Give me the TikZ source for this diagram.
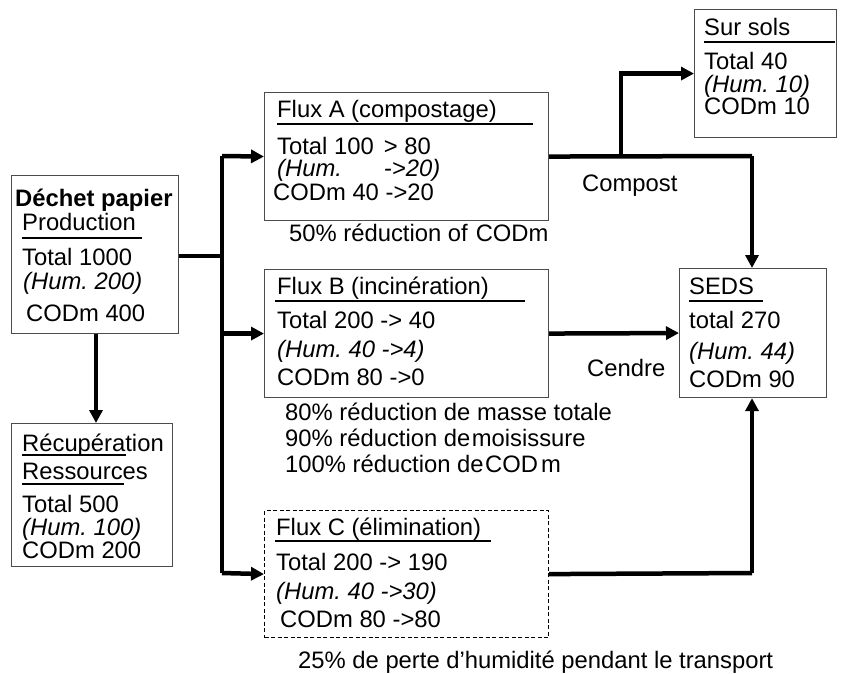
\documentclass[tikz,border=0pt]{standalone}
\usepackage{fontspec}
\setmainfont{Liberation Sans}
\usetikzlibrary{arrows.meta}
\begin{document}
\frenchspacing
\begin{tikzpicture}[x=1pt,y=-1pt,
  box/.style={draw=black!70, line width=1.1pt, anchor=north west, inner sep=0pt},
  dbox/.style={box, draw=black, line width=1.2pt, dash pattern=on 4pt off 2.5pt},
  tx/.style={anchor=west, inner sep=0pt, text height=17pt, text depth=0pt, font=\fontsize{23.8}{24}\selectfont},
  itx/.style={tx, font=\fontsize{23.8}{24}\selectfont\itshape},
  btx/.style={tx, font=\fontsize{23.8}{24}\selectfont\bfseries},
  uline/.style={line width=2pt},
  conn/.style={line width=4.5pt},
  arr/.style={conn, -{Triangle[length=13pt,width=13pt]}}]
\useasboundingbox (0,0) rectangle (842,673);

% boxes
\node[box, minimum width=167pt, minimum height=158pt] (prod) at (11,175) {};
\node[box, minimum width=161pt, minimum height=143pt] (recup) at (11,423) {};
\node[box, minimum width=284pt, minimum height=128pt] (fa) at (264,92) {};
\node[box, minimum width=284pt, minimum height=128pt] (fb) at (264,269) {};
\node[dbox, minimum width=284pt, minimum height=127pt] (fc) at (264,510) {};
\node[box, minimum width=142pt, minimum height=128pt] (sol) at (694,9) {};
\node[box, minimum width=147pt, minimum height=129pt] (seds) at (679,268) {};

% production
\node[btx] (p0) at (15,198) {Déchet papier};
\node[tx] (p1) at (22,222) {Production};
\draw[uline] (22,238) -- (142,238);
\node[tx] (p2) at (22,257) {Total 1000};
\node[itx] (p3) at (23,281) {(Hum. 200)};
\node[tx] (p4) at (26,313) {CODm 400};

% recuperation
\node[tx] (r1) at (22,443) {Récupération};
\draw[uline] (22,455) -- (126,455);
\node[tx] (r2) at (22,471) {Ressources};
\draw[uline] (22,484) -- (124,484);
\node[tx] (r3) at (22,504) {Total 500};
\node[itx] (r4) at (22,527) {(Hum. 100)};
\node[tx] (r5) at (22,550) {CODm 200};

% flux A
\node[tx] (a1) at (277,109) {Flux A (compostage)};
\draw[uline] (277,124) -- (533,124);
\node[tx] (a2) at (277,146) {Total 100\hspace{10pt}> 80};
\node[itx] (a3) at (277,168) {(Hum.\hspace{42pt}->20)};
\node[tx] (a4) at (273,192) {CODm 40 ->20};
\node[tx] (a5) at (289,233) {50\% réduction of\hspace{8pt}CODm};

% flux B
\node[tx] (b1) at (277,286) {Flux B (incinération)};
\draw[uline] (275,301) -- (525,301);
\node[tx] (b2) at (277,320) {Total 200 -> 40};
\node[itx] (b3) at (277,349) {(Hum. 40 ->4)};
\node[tx] (b4) at (277,377) {CODm 80 ->0};
\node[tx] (b5) at (285,412) {80\% réduction de masse totale};
\node[tx] (b6) at (285,438) {90\% réduction de\hspace{1.5pt}moisissure};
\node[tx] (b7) at (285,464) {100\% réduction de\hspace{1.5pt}COD\hspace{3pt}m};

% flux C
\node[tx] (c1) at (276,527) {Flux C (élimination)};
\draw[uline] (275,541) -- (491,541);
\node[tx] (c2) at (276,562) {Total 200 -> 190};
\node[itx] (c3) at (276,591) {(Hum. 40 ->30)};
\node[tx] (c4) at (280,619) {CODm 80 ->80};
\node[tx] (c5) at (298,660) {25\% de perte d’humidité pendant le transport};

% sur sols
\node[tx] (s1) at (704,27) {Sur sols};
\draw[uline] (704,42) -- (835,42);
\node[tx] (s2) at (704,61) {Total 40};
\node[itx] (s3) at (704,84) {(Hum. 10)};
\node[tx] (s4) at (704,106) {CODm 10};

% SEDS
\node[tx] (e1) at (689,286) {SEDS};
\draw[uline] (689,301) -- (763,301);
\node[tx] (e2) at (689,320) {total 270};
\node[itx] (e3) at (689,351) {(Hum. 44)};
\node[tx] (e4) at (689,379) {CODm 90};

% labels
\node[tx] (lc) at (582,183) {Compost};
\node[tx] (lcd) at (587,368) {Cendre};

% connector coordinates
\coordinate (trTop) at (222,156);
\coordinate (trMid) at (222,256);
\coordinate (trBot) at (222,573);
\coordinate (down) at (96,0);
\coordinate (aOut) at (752,156);
\coordinate (br) at (621,156);
\coordinate (cOut) at (752,573);

% connectors
\draw[arr] (prod.south -| down) -- (recup.north -| down);
\draw[conn] (prod.east |- trMid) -- (trMid);
\draw[conn] (trTop) -- (trBot);
\draw[arr] (trTop) -- (fa.west);
\draw[arr] (trTop |- fb.west) -- (fb.west);
\draw[arr] (trBot) -- (fc.west);
\draw[conn] (fa.east) -- (aOut);
\draw[arr] (aOut) -- (seds.north -| aOut);
\draw[arr] (br) |- (sol.west);
\draw[arr] (fb.east) -- (seds.west);
\draw[conn] (fc.east) -- (cOut);
\draw[arr] (cOut) -- (seds.south -| cOut);
\end{tikzpicture}
\end{document}
